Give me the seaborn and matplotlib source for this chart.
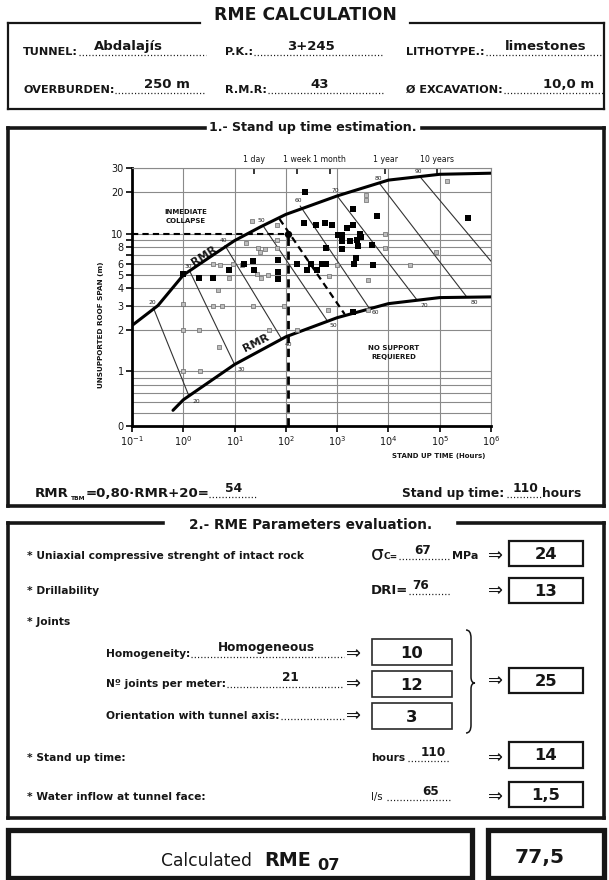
import numpy as np
import pandas as pd
import matplotlib
matplotlib.use("Agg")
import matplotlib.pyplot as plt
import seaborn as sns
from matplotlib.path import Path
from matplotlib.patches import PathPatch, Rectangle
from matplotlib.ticker import NullLocator, FixedLocator, FixedFormatter

sns.set_theme(style="white")
plt.rcParams['font.family'] = ['DejaVu Sans']
plt.rcParams['mathtext.fontset'] = 'dejavusans'

# ---------------- data ----------------
upper_x = [0.1, 0.32, 1, 3.2, 10, 32, 100, 316, 1000, 1e4, 1e5, 1e6]
upper_y = [2.15, 3.0, 5.0, 6.7, 8.9, 11.2, 13.8, 16.1, 18.8, 24.5, 27.0, 27.5]
lower_x = [0.63, 1, 10, 100, 1000, 1e4, 1e5, 1e6]
lower_y = [0.52, 0.62, 1.12, 1.78, 2.45, 3.1, 3.43, 3.47]

rmr_classes = [20, 30, 40, 50, 60, 70, 80, 90]
rmr_top_x = [0.26, 1.35, 6.5, 36, 190, 1000, 6800, 41000]
rmr_top_y = [2.9, 5.3, 8.2, 11.4, 15.9, 18.8, 23, 26]
rmr_bot_x = [1.29, 10, 84, 630, 4150, 36000, 340000, 1e6]
rmr_bot_y = [0.66, 1.12, 1.7, 2.35, 2.9, 3.3, 3.45, 6.3]

black_x = [235, 2000, 6000, 225, 390, 580, 800, 1550, 2000, 1040, 1240, 2800, 1800, 1240,
           2400, 2900, 2500, 4800, 600, 1240, 2300, 2100, 5000, 165, 310, 500, 600, 260,
           400, 350000, 1.0, 2.0, 3.8, 7.8, 15, 23, 24, 70, 70, 70, 2000]
black_y = [20, 15, 13.5, 12, 11.5, 12, 11.5, 11, 11.6, 9.8, 9.8, 10, 8.9, 8.9, 9, 9.4, 8.2,
           8.3, 7.8, 7.7, 6.6, 6, 5.9, 6, 6, 6, 6, 5.4, 5.4, 13, 5.1, 4.8, 4.8, 5.4, 6, 6.3,
           5.4, 6.4, 5.3, 4.7, 2.7]
gray_x = [22, 67, 17, 29, 31, 39, 67, 67, 14, 9.3, 5.2, 3.8, 7.8, 27, 33, 45, 1.0, 3.8, 5.7,
          23, 92, 1.0, 2.0, 47, 164, 5.0, 1.0, 2.1, 4.7, 660, 140000, 3600, 3600, 8500, 8500,
          84000, 26000, 4000, 690, 1000, 4000]
gray_y = [12.4, 11.6, 8.5, 7.8, 7.4, 7.7, 9, 7.8, 5.9, 6, 5.9, 6, 4.8, 5.1, 4.75, 5.0, 3.1,
          3.0, 3.0, 3.0, 3.0, 2.0, 2.0, 2.0, 2.0, 1.5, 1.0, 1.0, 3.9, 2.8, 24, 19, 17.5, 10,
          7.8, 7.3, 5.9, 4.6, 4.9, 5.9, 2.8]

rmr_tbm = 54
rmr54_x = [75, 1400]
rmr54_y = [12.8, 2.6]
case_span = 10
case_time = 110

y_ticks = [0.4, 1, 2, 3, 4, 5, 6, 7, 8, 9, 10, 20, 30]
y_ticklabels = ['0', '1', '2', '3', '4', '5', '6', '', '8', '', '10', '20', '30']
y_grid = [0.5, 0.6, 0.7, 0.8, 0.9, 1, 2, 3, 4, 5, 6, 7, 8, 9, 10, 20, 30]
x_ticks = [0.1, 1, 10, 100, 1e3, 1e4, 1e5, 1e6]
x_ticklabels = [r'$10^{-1}$', r'$10^{0}$', r'$10^{1}$', r'$10^{2}$', r'$10^{3}$',
                r'$10^{4}$', r'$10^{5}$', r'$10^{6}$']
time_ticks = [24, 168, 720, 8760, 87600]
time_labels = ['1 day', '1 week', '1 month', '1 year', '10 years']

header_labels = ['TUNNEL:', 'P.K.:', 'LITHOTYPE.:', 'OVERBURDEN:', 'R.M.R:', 'Ø EXCAVATION:']
header_values = ['Abdalajís', '3+245', 'limestones', '250 m', '43', '10,0 m']
ucs, ucs_pts = 67, '24'
dri, dri_pts = 76, '13'
homog, homog_pts = 'Homogeneous', '10'
joints_m, joints_pts = 21, '12'
orient_pts = '3'
joints_total = '25'
sut_pts = '14'
water, water_pts = 65, '1,5'
rme = '77,5'

# ---------------- figure ----------------
W, H = 609, 880
INK = '#161616'
GRID = '#8a8a8a'
fig = plt.figure(figsize=(W / 100, H / 100), dpi=100, facecolor='white')
ov = fig.add_axes([0, 0, 1, 1], zorder=0)
ov.set_xlim(0, W)
ov.set_ylim(H, 0)
ov.axis('off')
fig.canvas.draw()
R = fig.canvas.get_renderer()


def size_for(s, width, weight='bold'):
    t = ov.text(0, 0, s, fontsize=10, fontweight=weight)
    w = t.get_window_extent(renderer=R).width
    t.remove()
    return 10 * width / w


def txt(x, y, s, size, weight='bold', ha='left', va='baseline', **kw):
    return ov.text(x, y, s, fontsize=size, fontweight=weight, ha=ha, va=va, color=INK, **kw)


def endx(t):
    return t.get_window_extent(renderer=R).x1


def seg(xs, ys, lw):
    ov.plot(xs, ys, color=INK, lw=lw, solid_capstyle='projecting')


def frame(x0, x1, y0, y1, lw, gap=None):
    seg([x0, x0], [y0, y1], lw)
    seg([x1, x1], [y0, y1], lw)
    seg([x0, x1], [y1, y1], lw)
    if gap is None:
        seg([x0, x1], [y0, y0], lw)
    else:
        seg([x0, gap[0]], [y0, y0], lw)
        seg([gap[1], x1], [y0, y0], lw)


def dots(x0, x1, y):
    ov.plot([x0, x1], [y, y], color=INK, lw=0.9, ls=(0, (0.9, 1.7)))


S_TITLE = size_for('RME CALCULATION', 183)
S_HL = size_for('OVERBURDEN:', 92)
S_HV = size_for('limestones', 81, 'semibold')
S_SEC = size_for('2.- RME Parameters evaluation.', 243)
S_F = size_for('=0,80·RMR+20=', 124)
S_BV = size_for('110', 26)
S_L = size_for('* Water inflow at tunnel face:', 177)
S_V = size_for('Homogeneous', 98)
S_BOX = size_for('24', 23)
S_ARW = size_for('⇒', 15, 'normal')


def valbox(x0, x1, y0, y1, s, lw=1.6, ec=INK):
    ov.add_patch(Rectangle((x0, y0), x1 - x0, y1 - y0, fill=False, ec=ec, lw=lw))
    txt((x0 + x1) / 2, (y0 + y1) / 2 + 1, s, S_BOX, ha='center', va='center')


def arrow(cx, y):
    txt(cx, y, '⇒', S_ARW, weight='normal', ha='center', va='center')


# ---- header block ----
txt(305, 15, 'RME CALCULATION', S_TITLE, ha='center', va='center')
frame(8, 604, 23, 109, 1.6, gap=(200, 410))
lab_x = [23, 225, 406, 23, 225, 406]
dot_end = [206, 384, 604, 206, 384, 604]
val_cx = [128, 311, 546, 167, 320, 569]
for i, (lab, val) in enumerate(zip(header_labels, header_values)):
    yb = 55 if i < 3 else 93
    t = txt(lab_x[i], yb, lab, S_HL)
    dots(endx(t) + 1, dot_end[i], yb)
    txt(val_cx[i], yb - 5, val, S_HV, weight='semibold', ha='center')

# ---- section 1 ----
frame(8, 604, 128, 506, 2.6, gap=(205, 422))
txt(313, 128, '1.- Stand up time estimation.', S_SEC * 0.93, ha='center', va='center')
t = txt(35, 497, 'RMR', S_F)
t = txt(endx(t) + 2, 500, 'TBM', S_F * 0.45)
t = txt(endx(t), 497, '=0,80·RMR+20=', S_F)
x = endx(t)
dots(x, x + 48, 497)
txt(x + 24, 492, str(rmr_tbm), S_BV, ha='center')
t = txt(402, 497, 'Stand up time:', S_F * 0.92)
x = endx(t) + 3
dots(x, x + 34, 497)
txt(x + 18, 492, str(case_time), S_BV, ha='center')
txt(x + 35, 497, 'hours', S_F * 0.92)

# ---- section 2 ----
frame(8, 604, 523, 818, 2.6, gap=(163, 458))
txt(311, 525, '2.- RME Parameters evaluation.', S_SEC, ha='center', va='center')
RB0, RB1 = 509, 583
MB0, MB1 = 372, 452
GX = 371
DOT_END = 450

# UCS
txt(27, 559, '* Uniaxial compressive strenght of intact rock', S_L)
t = txt(GX, 560, 'σ', S_L * 1.9, weight='normal')
t = txt(endx(t), 559, 'C=', S_L * 0.85)
dots(endx(t) + 1, DOT_END, 559)
txt(423, 554, str(ucs), S_V, ha='center')
txt(DOT_END + 2, 559, 'MPa', S_L * 1.05)
arrow(495, 556)
valbox(RB0, RB1, 541, 566, ucs_pts)

# DRI
txt(27, 594, '* Drillability', S_L)
t = txt(GX, 594, 'DRI=', S_L * 1.25)
dots(endx(t) + 1, DOT_END, 594)
txt(421, 589, str(dri), S_V, ha='center')
arrow(495, 591)
valbox(RB0, RB1, 578, 603, dri_pts)

# Joints
txt(27, 625, '* Joints', S_L)
jrows = [(657, 'Homogeneity:', homog, 266, homog_pts, 639, 665),
         (687, 'Nº joints per meter:', str(joints_m), 290, joints_pts, 671, 697),
         (719, 'Orientation with tunnel axis:', '', 0, orient_pts, 703, 729)]
for yb, lab, val, vx, pts, b0, b1 in jrows:
    t = txt(106, yb, lab, S_L)
    dots(endx(t) + 1, 344, yb)
    if val:
        txt(vx, yb - 6, val, S_V, ha='center')
    arrow(353, yb - 3)
    valbox(MB0, MB1, b0, b1, pts, lw=1.2, ec='#2a2a2a')

# brace
bx, by0, by1 = 466, 630, 733
bym = 683
verts = [(bx, by0), (bx + 5, by0), (bx + 5, by0 + 8),
         (bx + 5, bym - 6),
         (bx + 5, bym), (bx + 9, bym),
         (bx + 5, bym), (bx + 5, bym + 6),
         (bx + 5, by1 - 8),
         (bx + 5, by1), (bx, by1)]
codes = [Path.MOVETO, Path.CURVE3, Path.CURVE3, Path.LINETO, Path.CURVE3, Path.CURVE3,
         Path.CURVE3, Path.CURVE3, Path.LINETO, Path.CURVE3, Path.CURVE3]
ov.add_patch(PathPatch(Path(verts, codes), fill=False, ec=INK, lw=1.1))
arrow(495, 681)
valbox(RB0, RB1, 668, 693, joints_total)

# stand up time
txt(27, 761, '* Stand up time:', S_L)
t = txt(GX, 761, 'hours', S_L)
dots(endx(t) + 3, DOT_END, 761)
txt(433, 756, str(case_time), S_V, ha='center')
arrow(495, 758)
valbox(RB0, RB1, 742, 768, sut_pts)

# water
txt(27, 800, '* Water inflow at tunnel face:', S_L)
t = txt(GX, 800, 'l/s', S_L * 0.95, weight='normal')
dots(endx(t) + 4, DOT_END, 800)
txt(431, 795, str(water), S_V, ha='center')
arrow(495, 797)
valbox(RB0, RB1, 782, 807, water_pts)

# ---- result ----
ov.add_patch(Rectangle((8, 830), 464, 48, fill=False, ec=INK, lw=3.8))
ov.add_patch(Rectangle((488, 830), 116, 48, fill=False, ec=INK, lw=3.8))
S_CALC = size_for('Calculated', 91, 'medium')
t = txt(161, 866, 'Calculated', S_CALC, weight='medium')
t = txt(264, 866, 'RME', size_for('RME', 47))
txt(endx(t) + 6, 870, '07', S_CALC * 0.95)
txt(540, 857, rme, size_for(rme, 50), ha='center', va='center')

# ---------------- chart ----------------
ax = fig.add_axes([132 / W, 1 - 426 / H, 359 / W, 258 / H], zorder=2)
ax.patch.set_alpha(0)
ax.set_xscale('log')
ax.set_yscale('log')
for yv in y_grid:
    ax.axhline(yv, color=GRID, lw=0.8, zorder=0)
for xv in x_ticks:
    ax.axvline(xv, color=GRID, lw=0.8, zorder=0)

df_rmr = pd.DataFrame({'rmr': rmr_classes * 2,
                       'hours': rmr_top_x + rmr_bot_x,
                       'span': rmr_top_y + rmr_bot_y})
sns.lineplot(data=df_rmr, x='hours', y='span', units='rmr', estimator=None, sort=False,
             color='#333333', lw=0.8, ax=ax, zorder=2)
sns.lineplot(x=upper_x, y=upper_y, color='black', lw=2.2, ax=ax, sort=False, zorder=4)
sns.lineplot(x=lower_x, y=lower_y, color='black', lw=2.2, ax=ax, sort=False, zorder=4)

for r, tx, ty in zip(rmr_classes, rmr_top_x, rmr_top_y):
    ax.annotate(str(r), (tx, ty), xytext=(-1, 2), textcoords='offset points',
                fontsize=4.3, ha='center', va='bottom', color='#222')
for r, bx_, by_ in zip(rmr_classes[:-1], rmr_bot_x[:-1], rmr_bot_y[:-1]):
    ax.annotate(str(r), (bx_, by_), xytext=(5, -2), textcoords='offset points',
                fontsize=4.3, ha='center', va='top', color='#222')

sns.scatterplot(x=gray_x, y=gray_y, marker='s', s=10, color='#bdbdbd', edgecolor='#6a6a6a',
                linewidth=0.5, ax=ax, zorder=5)
sns.scatterplot(x=black_x, y=black_y, marker='s', s=24, color='black', edgecolor='black',
                linewidth=0, ax=ax, zorder=6)

ax.plot(rmr54_x, rmr54_y, color='black', lw=1.6, ls=(0, (3, 2)), zorder=5)
ax.hlines(case_span, x_ticks[0], case_time, color='black', lw=1.5, ls=(0, (3, 2)), zorder=5)
ax.vlines(case_time, y_ticks[0], case_span, color='black', lw=2.0, ls=(0, (3, 2)), zorder=5)
ax.scatter([case_time], [case_span], marker='o', s=18, color='black', zorder=7)

ax.text(1.13, 13.3, 'INMEDIATE\nCOLLAPSE', fontsize=5.0, fontweight='bold', ha='center',
        va='center', color=INK, linespacing=1.5)
ax.text(12800, 1.37, 'NO SUPPORT\nREQUIERED', fontsize=5.0, fontweight='bold', ha='center',
        va='center', color=INK, linespacing=1.5)
ax.text(2.5, 6.9, 'RMR', rotation=33, fontsize=8, fontweight='bold', ha='center',
        va='center', color=INK, rotation_mode='anchor')
ax.text(26, 1.6, 'RMR', rotation=27, fontsize=8, fontweight='bold', ha='center',
        va='center', color=INK, rotation_mode='anchor')

ax.set_xlim(x_ticks[0], x_ticks[-1])
ax.set_ylim(y_ticks[0], y_ticks[-1])
ax.xaxis.set_major_locator(FixedLocator(x_ticks))
ax.xaxis.set_major_formatter(FixedFormatter(x_ticklabels))
ax.xaxis.set_minor_locator(NullLocator())
ax.yaxis.set_major_locator(FixedLocator(y_ticks))
ax.yaxis.set_major_formatter(FixedFormatter(y_ticklabels))
ax.yaxis.set_minor_locator(NullLocator())
ax.tick_params(axis='both', which='major', direction='out', length=4, width=1.3,
               labelsize=7, colors=INK, pad=2, bottom=True, left=True)
for s in ['left', 'bottom']:
    ax.spines[s].set_color('black')
    ax.spines[s].set_linewidth(2.0)
for s in ['top', 'right']:
    ax.spines[s].set_color(GRID)
    ax.spines[s].set_linewidth(0.8)
ax.set_xlabel('')
ax.set_ylabel('')

sec = ax.secondary_xaxis('top')
sec.xaxis.set_major_locator(FixedLocator(time_ticks))
sec.xaxis.set_major_formatter(FixedFormatter(time_labels))
sec.xaxis.set_minor_locator(NullLocator())
sec.tick_params(direction='in', length=4, width=1.2, labelsize=5.6, pad=3, colors=INK)
sec.spines['top'].set_visible(False)

fig.text(101 / W, 1 - 325 / H, 'UNSUPPORTED ROOF SPAN (m)', rotation=90, fontsize=5.2,
         fontweight='bold', ha='center', va='center', color=INK)
fig.text(439 / W, 1 - 456 / H, 'STAND UP TIME (Hours)', fontsize=5.0, fontweight='bold',
         ha='center', va='center', color=INK)

fig.savefig('out.png', dpi=100, facecolor='white')
